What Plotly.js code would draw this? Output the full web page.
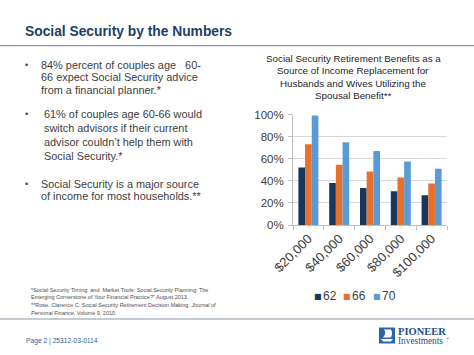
<!DOCTYPE html>
<html><head><meta charset="utf-8">
<script src="https://cdn.plot.ly/plotly-3.0.1.min.js"></script>
<style>html,body{margin:0;padding:0;background:#fff;overflow:hidden;} #chart{width:474px;height:355px;}</style>
</head><body><div id="chart"></div>
<script>
// ---- data ----
const categories = ['$20,000', '$40,000', '$60,000', '$80,000', '$100,000'];
const seriesNames = ['62', '66', '70'];
const age62 = [0.52, 0.38, 0.335, 0.305, 0.27];
const age66 = [0.73, 0.545, 0.485, 0.43, 0.375];
const age70 = [0.99, 0.75, 0.67, 0.575, 0.51];
const yTickVals = [0, 0.2, 0.4, 0.6, 0.8, 1];
const yTickText = ['0%', '20%', '40%', '60%', '80%', '100%'];
const seriesColors = ['#17375e', '#e8702a', '#5b9bd5'];

const chartTitleLines = ['Social Security Retirement Benefits as a', 'Source of Income Replacement for', 'Husbands and Wives Utilizing the', 'Spousal Benefit**'];
const slideTitle = 'Social Security by the Numbers';
const bullet1 = ['84% percent of couples age &nbsp;&nbsp;60-', '66 expect Social Security advice', 'from a financial planner.*'];
const bullet2 = ['61% of couples age 60-66 would', 'switch advisors if their current', 'advisor couldn\u2019t help them with', 'Social Security.*'];
const bullet3 = ['Social Security is a major source', 'of income for most households.**'];
const footnotes = ['*Social Security Timing &nbsp;and &nbsp;Market Tools: Social Security Planning: The',
  'Emerging Cornerstone of Your Financial Practice?\u201d August 2013.',
  '**Rose, Clarence C. Social Security Retirement Decision Making. <i>Journal of</i>',
  '<i>Personal Finance</i>. Volume 9, 2010.'];
const footerText = 'Page 2 | 25312-03-0114';

// ---- layout helpers ----
const W = 474, H = 355;
const SANS = 'Liberation Sans, Arial, sans-serif';
const SERIF = 'Liberation Serif, DejaVu Serif, serif';
function note(text, x, y, size, color, anchor, extra) {
  return Object.assign({
    xref: 'paper', yref: 'paper', x: x / W, y: 1 - y / H,
    xanchor: anchor || 'left', yanchor: 'middle', showarrow: false,
    text: text, borderpad: 0,
    font: {family: SANS, size: size, color: color}
  }, extra || {});
}

const ann = [];
ann.push(note('<b>' + slideTitle + '</b>', 24, 32, 13.8, '#1c3f66'));
const bulletColor = '#404040';
const bsize = 10.9;
const b1y = [65, 77.5, 90];
bullet1.forEach((t, i) => ann.push(note(t, 40, b1y[i], bsize, bulletColor)));
const b2y = [114, 128, 142, 156];
bullet2.forEach((t, i) => ann.push(note(t, 42.5, b2y[i], bsize, bulletColor)));
const b3y = [183.5, 195.5];
bullet3.forEach((t, i) => ann.push(note(t, 40, b3y[i], bsize, bulletColor)));
[b1y[0], b2y[0], b3y[0]].forEach(y => ann.push(note('\u2022', 24, y, 9, bulletColor)));

const ctY = [58.5, 71, 83.5, 96];
chartTitleLines.forEach((t, i) => ann.push(note(t, 353, ctY[i], 9.8, '#262626', 'center')));

const fnY = [289.5, 297, 304.5, 312.5];
footnotes.forEach((t, i) => ann.push(note(t, 30, fnY[i], 5.5, '#4d4d4d')));
ann.push(note(footerText, 25, 341, 6.7, '#2e5c9a'));
ann.push(note('<b>PIONEER</b>', 397, 331.5, 10.5, '#1f4e8c', 'left', {font: {family: SERIF, size: 10.5, color: '#1f4e8c'}}));
ann.push(note('Investments', 397, 340.5, 9.3, '#1f4e8c', 'left', {font: {family: SERIF, size: 9.3, color: '#1f4e8c'}}));
ann.push(note('\u00ae', 445, 338, 4.5, '#1f4e8c', 'left', {font: {family: SERIF, size: 4.5, color: '#1f4e8c'}}));

// legend (drawn as text keyed to the series names and colours)
seriesNames.forEach((n, i) => {
  const x0 = 312.5 + i * 29.5;
  ann.push(note('\u25a0', x0, 296.5, 8, seriesColors[i], 'left', {font: {family: 'DejaVu Sans, sans-serif', size: 8, color: seriesColors[i]}}));
  ann.push(note(n, x0 + 9, 296, 12, '#404040'));
});

const shapes = [
  {type: 'line', xref: 'paper', yref: 'paper', x0: 0, x1: 1, y0: 1 - 45.7 / H, y1: 1 - 45.7 / H, line: {color: '#8797aa', width: 1.2}},
  {type: 'line', xref: 'paper', yref: 'paper', x0: 0, x1: 1, y0: 1 - 319 / H, y1: 1 - 319 / H, line: {color: '#8797aa', width: 1.2}},
  {type: 'rect', xref: 'paper', yref: 'paper', x0: 379 / W, x1: 395 / W, y0: 1 - 343.5 / H, y1: 1 - 327.5 / H, fillcolor: '#2a66ae', line: {width: 0}},
  {type: 'path', xref: 'paper', yref: 'paper',
   path: `M ${381/W} ${1-339/H} L ${393/W} ${1-339/H} L ${391/W} ${1-341.5/H} L ${383/W} ${1-341.5/H} Z`,
   fillcolor: '#ffffff', line: {width: 0}},
  {type: 'path', xref: 'paper', yref: 'paper',
   path: `M ${383/W} ${1-337.5/H} Q ${387/W} ${1-333/H} ${384/W} ${1-329.5/H} L ${391/W} ${1-329.5/H} Q ${393/W} ${1-333/H} ${391/W} ${1-337.5/H} Z`,
   fillcolor: '#ffffff', line: {width: 0}}
];

const ys = [age62, age66, age70];
const traces = seriesNames.map((n, i) => ({
  type: 'bar', name: n, x: categories, y: ys[i],
  marker: {color: seriesColors[i]}, hoverinfo: 'skip'
}));

const layout = {
  width: W, height: H,
  margin: {l: 0, r: 0, t: 0, b: 0},
  paper_bgcolor: '#ffffff', plot_bgcolor: '#ffffff',
  barmode: 'group', bargap: 0.35, bargroupgap: 0,
  showlegend: false,
  xaxis: {type: 'category', domain: [293 / W, 447 / W], showline: true, linecolor: '#bfbfbf', linewidth: 1,
          ticks: 'outside', tickson: 'boundaries', ticklen: 4, tickcolor: '#bfbfbf',
          tickangle: -45, tickfont: {family: SANS, size: 13, color: '#404040'},
          showgrid: false, fixedrange: true},
  yaxis: {domain: [1 - 225 / H, 1 - 114.5 / H], range: [0, 1], tickvals: yTickVals, ticktext: yTickText,
          showline: true, linecolor: '#bfbfbf', linewidth: 1, ticks: 'outside', ticklen: 4, tickcolor: '#bfbfbf',
          gridcolor: '#d9d9d9', gridwidth: 1, zeroline: false,
          tickfont: {family: SANS, size: 11.5, color: '#404040'}, ticklabelstandoff: 2, fixedrange: true},
  annotations: ann,
  shapes: shapes
};

Plotly.newPlot('chart', traces, layout, {displayModeBar: false, staticPlot: true});
</script>
</body></html>
